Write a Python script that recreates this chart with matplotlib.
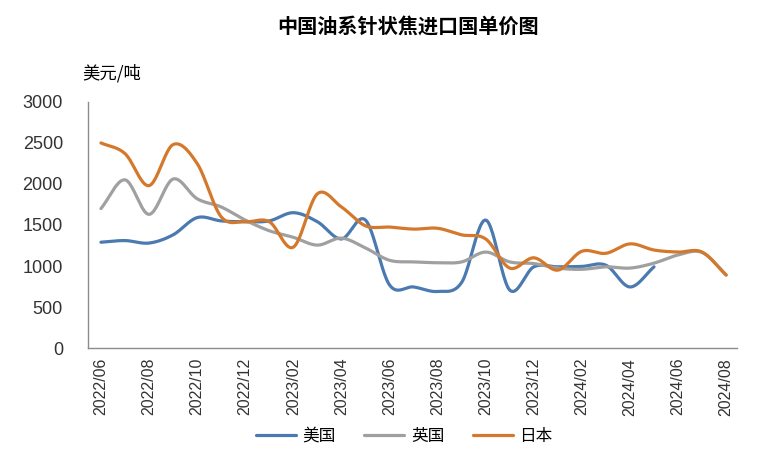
import numpy as np
import pandas as pd
import matplotlib
matplotlib.use("Agg")
import matplotlib.pyplot as plt

# monthly unit prices, USD/t, 2022/06 .. 2024/08
months = [p.strftime("%Y/%m") for p in pd.period_range("2022-06", "2024-08", freq="M")]
us = [1290, 1310, 1280, 1380, 1590, 1550, 1540, 1550, 1650, 1540, 1330, 1560, 770, 745,
      690, 800, 1560, 707, 990, 990, 995, 1010, 745, 990, np.nan, np.nan, np.nan]
uk = [1700, 2050, 1630, 2060, 1820, 1720, 1560, 1430, 1350, 1255, 1340, 1220, 1070, 1050,
      1040, 1050, 1170, 1050, 1030, 975, 960, 990, 975, 1035, 1135, 1165, 890]
jp = [2500, 2370, 1980, 2480, 2250, 1600, 1540, 1540, 1230, 1880, 1720, 1490, 1475, 1450,
      1460, 1380, 1330, 975, 1100, 950, 1180, 1155, 1270, 1195, 1170, 1170, 890]
series_names = ["美国", "英国", "日本"]
colors = ["#4a7ab0", "#a0a0a0", "#d4782c"]

CJK = ["Noto Sans CJK SC", "DejaVu Sans"]
plt.rcParams["font.family"] = ["Liberation Sans", "Noto Sans CJK SC"]


def smooth(y, n=24):
    """Catmull-Rom curve through the points (Excel-style smoothed line), split at gaps."""
    y = np.asarray(y, dtype=float)
    x = np.arange(len(y), dtype=float)
    ok = ~np.isnan(y)
    xs_all, ys_all = [], []
    idx = np.where(ok)[0]
    runs = np.split(idx, np.where(np.diff(idx) > 1)[0] + 1)
    for run in runs:
        px, py = x[run], y[run]
        if len(px) < 2:
            continue
        ppx = np.concatenate([[2 * px[0] - px[1]], px, [2 * px[-1] - px[-2]]])
        ppy = np.concatenate([[2 * py[0] - py[1]], py, [2 * py[-1] - py[-2]]])
        t = np.linspace(0, 1, n, endpoint=False)
        for i in range(1, len(ppx) - 2):
            for arr, out in ((ppx, xs_all), (ppy, ys_all)):
                p0, p1, p2, p3 = arr[i - 1], arr[i], arr[i + 1], arr[i + 2]
                out.extend(0.5 * ((2 * p1) + (-p0 + p2) * t
                                  + (2 * p0 - 5 * p1 + 4 * p2 - p3) * t ** 2
                                  + (-p0 + 3 * p1 - 3 * p2 + p3) * t ** 3))
        xs_all.append(px[-1]); ys_all.append(py[-1])
        xs_all.append(np.nan); ys_all.append(np.nan)
    return np.array(xs_all), np.array(ys_all)


fig = plt.figure(figsize=(7.73, 4.55), dpi=100)
ax = fig.add_axes([0.1138, 0.235, 0.8396, 0.541])

for name, vals, c in zip(series_names, [us, uk, jp], colors):
    sx, sy = smooth(vals)
    ax.plot(sx, sy, color=c, lw=2.3, label=name, solid_capstyle="round")

ax.set_xlim(-0.54, 26.45)
ax.set_ylim(0, 3000)
ax.set_yticks(range(0, 3001, 500))
ax.set_xticks(range(0, len(months), 2))
ax.set_xticklabels(months[::2], rotation=90, fontsize=11.5, color="#333333")
ax.tick_params(axis="y", length=0, labelsize=13, pad=18, labelcolor="#333333")
ax.tick_params(axis="x", length=0, pad=7)
for s in ("top", "right"):
    ax.spines[s].set_visible(False)
for s in ("left", "bottom"):
    ax.spines[s].set_color("#8c8c8c")
    ax.spines[s].set_linewidth(1.0)

fig.text(0.528, 0.94, "中国油系针状焦进口国单价图", ha="center", va="center",
         fontsize=14.5, fontweight="bold", family=CJK)
fig.text(0.106, 0.838, "美元/吨", ha="left", va="center", fontsize=12.5, family=CJK)

fig.legend(loc="center", bbox_to_anchor=(0.523, 0.041), ncol=3, frameon=False,
           prop={"family": CJK, "size": 12}, handlelength=2.4,
           handletextpad=0.4, columnspacing=1.7)

fig.savefig("out.png", dpi=100, facecolor="white")
